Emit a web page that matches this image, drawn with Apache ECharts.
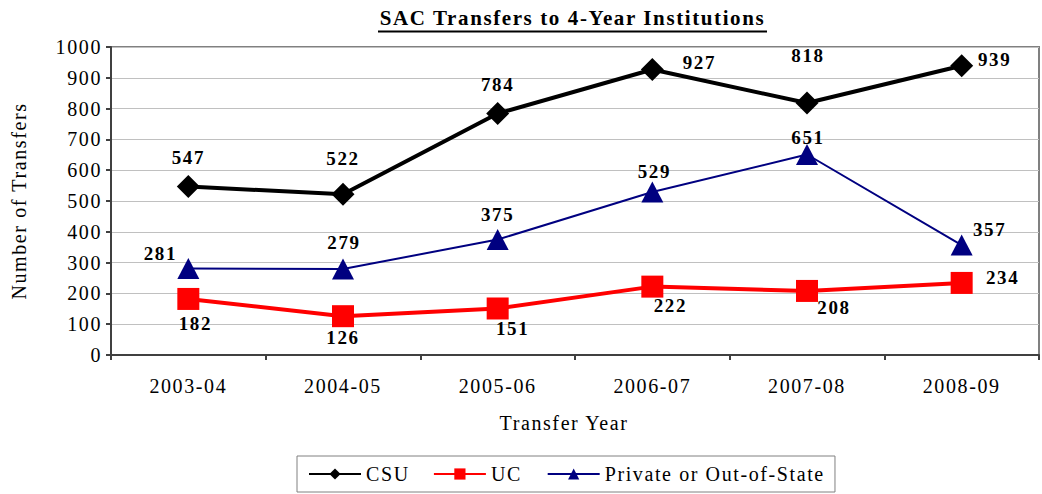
<!DOCTYPE html>
<html>
<head>
<meta charset="utf-8">
<script src="https://cdn.jsdelivr.net/npm/echarts@6/dist/echarts.min.js"></script>
<style>
  html, body { margin: 0; padding: 0; background: #fff; }
  #chart { width: 1042px; height: 494px; }
  #chart text { letter-spacing: 1.6px; font-family: "Liberation Serif", "Times New Roman", serif !important; }
</style>
</head>
<body>
<div id="chart"></div>
<script>
// ---- data ----
const categories = ['2003-04', '2004-05', '2005-06', '2006-07', '2007-08', '2008-09'];
const csu = [547, 522, 784, 927, 818, 939];
const uc = [182, 126, 151, 222, 208, 234];
const priv = [281, 279, 375, 529, 651, 357];
const yTicks = { min: 0, max: 1000, interval: 100 };

// label offsets (layout only)
const csuOff = [[0, -29], [0, -36], [0, -29], [47, -6.5], [1, -47.5], [33, -6]];
const ucOff = [[7, 24.5], [0, 21], [15, 20.5], [18, 19], [27, 17], [41, -5.5]];
const privOff = [[-28, -14.5], [1, -27], [0, -25], [2, -20.5], [1, -16.5], [28, -15.5]];

const FONT = 'Liberation Serif, Times New Roman, serif';

function withLabels(vals, offs) {
  return vals.map((v, i) => ({
    value: v,
    label: { offset: offs[i] }
  }));
}
const labelBase = {
  show: true,
  position: 'inside',
  color: '#000',
  fontFamily: FONT,
  fontSize: 19,
  fontWeight: 'bold'
};

const chart = echarts.init(document.getElementById('chart'), null, { renderer: 'svg' });
chart.setOption({
  animation: false,
  backgroundColor: '#fff',
  textStyle: { fontFamily: FONT },
  graphic: [
    {
      type: 'text',
      x: 572.5, y: 17.5,
      style: {
        text: 'SAC Transfers to 4-Year Institutions',
        font: 'bold 21px Liberation Serif, Times New Roman, serif',
        fill: '#000',
        textAlign: 'center',
        textVerticalAlign: 'middle'
      }
    },
    {
      type: 'line',
      shape: { x1: 378, y1: 31.5, x2: 767, y2: 31.5 },
      style: { stroke: '#000', lineWidth: 2 }
    }
  ],
  legend: {
    left: 297,
    top: 456,
    orient: 'horizontal',
    padding: [8, 47, 8, 11],
    itemGap: 28,
    itemWidth: 52,
    itemHeight: 14,
    borderColor: '#808080',
    borderWidth: 1,
    textStyle: { fontFamily: FONT, fontSize: 20, color: '#000' },
    data: ['CSU', 'UC', 'Private or Out-of-State']
  },
  grid: {
    left: 111, right: 3, top: 47, bottom: 139,
    show: true,
    borderColor: '#808080',
    borderWidth: 2,
    containLabel: false,
    outerBoundsMode: 'none'
  },
  xAxis: {
    type: 'category',
    data: categories,
    boundaryGap: true,
    name: 'Transfer Year',
    nameLocation: 'middle',
    nameGap: 58,
    nameTextStyle: { fontFamily: FONT, fontSize: 20, color: '#000', padding: [0, 22, 0, 0] },
    axisLine: { show: true, lineStyle: { color: '#404040', width: 2 } },
    axisTick: { show: true, length: 5, interval: 0, lineStyle: { color: '#404040', width: 2 } },
    axisLabel: { margin: 21, fontFamily: FONT, fontSize: 20, color: '#000', interval: 0 },
    splitLine: { show: false }
  },
  yAxis: {
    type: 'value',
    min: yTicks.min,
    max: yTicks.max,
    interval: yTicks.interval,
    name: 'Number of Transfers',
    nameLocation: 'middle',
    nameGap: 82,
    nameTextStyle: { fontFamily: FONT, fontSize: 20, color: '#000' },
    axisLine: { show: true, lineStyle: { color: '#404040', width: 2 } },
    axisTick: { show: true, length: 5, lineStyle: { color: '#404040', width: 2 } },
    axisLabel: { margin: 9, fontFamily: FONT, fontSize: 20, color: '#000', formatter: (v) => String(v) },
    splitLine: { show: true, lineStyle: { color: '#c0c0c0', width: 1 } }
  },
  series: [
    {
      name: 'CSU',
      type: 'line',
      data: withLabels(csu, csuOff),
      symbol: 'diamond',
      symbolSize: 23,
      color: '#000000',
      lineStyle: { color: '#000000', width: 4 },
      itemStyle: { color: '#000000' },
      label: labelBase,
      z: 3
    },
    {
      name: 'UC',
      type: 'line',
      data: withLabels(uc, ucOff),
      symbol: 'rect',
      symbolSize: 22,
      color: '#ff0000',
      lineStyle: { color: '#ff0000', width: 4 },
      itemStyle: { color: '#ff0000' },
      label: labelBase,
      z: 2
    },
    {
      name: 'Private or Out-of-State',
      type: 'line',
      data: withLabels(priv, privOff),
      symbol: 'triangle',
      symbolSize: [22, 21],
      color: '#000080',
      lineStyle: { color: '#000080', width: 2 },
      itemStyle: { color: '#000080' },
      label: labelBase,
      z: 2
    }
  ]
});
</script>
</body>
</html>
